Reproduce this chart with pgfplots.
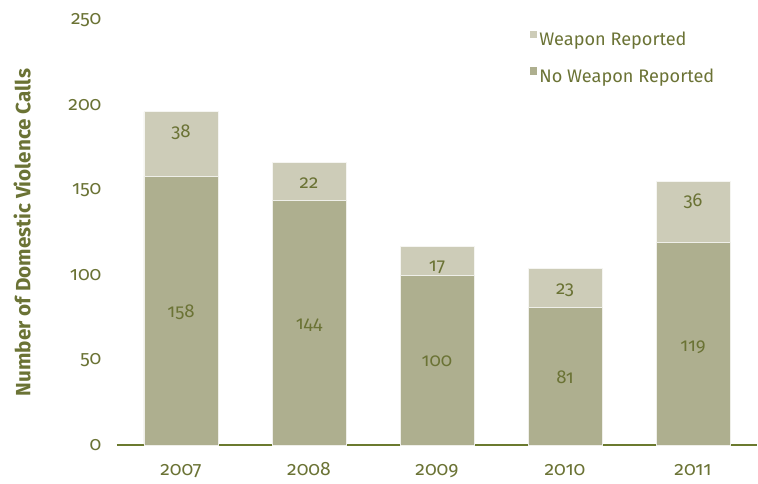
\documentclass[border=0pt]{standalone}
\usepackage{pgfplots}
\usepackage{pgfplotstable}
\pgfplotsset{compat=1.18}
\usepackage{fontspec}
\setmainfont[Numbers=OldStyle]{Fira Sans}
\definecolor{nowp}{HTML}{AEAF8F}
\definecolor{wp}{HTML}{CDCCB8}
\definecolor{txt}{HTML}{6B7335}
\definecolor{axc}{HTML}{6B7A2F}
\pgfplotstableread{
x nw w
0 158 38
1 144 22
2 100 17
3 81 23
4 119 36
}\datatab
\pgfplotstableread{
x y lab
0 78 158
1 70.5 144
2 49 100
3 40 81
4 57.6 119
0 184 38
1 154 22
2 104.7 17
3 91.2 23
4 143.5 36
}\labtab
\begin{document}
\fontsize{13pt}{15pt}\selectfont
\begin{tikzpicture}
\pgfplotsset{
  common/.style={
    scale only axis, width=480pt, height=318.75pt,
    xmin=-0.5, xmax=4.5, ymin=0, ymax=250,
  }
}
\begin{axis}[common, name=main,
  ybar stacked, bar width=55.5pt,
  axis x line=bottom, axis y line=left,
  x axis line style={draw=axc, line width=0.9pt, -},
  y axis line style={draw=none},
  tick style={draw=none},
  xtick={0,...,4}, xticklabels={2007,2008,2009,2010,2011},
  ytick={0,50,...,250},
  ticklabel style={font=\fontsize{14.5pt}{16pt}\selectfont, text=txt},
  yticklabel style={xshift=-5pt},
  xticklabel style={yshift=-6pt, text height=10pt, text depth=3pt},
  /pgf/number format/assume math mode=true,
  ylabel={Number of Domestic Violence Calls},
  every axis y label/.style={at={(axis description cs:-0.148,0.5)}, rotate=90, anchor=center,
     font=\fontsize{15.5pt}{17pt}\selectfont\bfseries, text=txt},
  legend style={at={(0.645,0.978)}, anchor=north west, draw=none, fill=none,
     font=\fontsize{13.6pt}{15pt}\selectfont, text=txt, row sep=11pt, inner sep=0pt,
     nodes={inner xsep=1.5pt}},
  legend cell align=left,
  legend image code/.code={\fill[#1, draw=none] (0pt,1.5pt) rectangle (5.5pt,7pt);},
  reverse legend,
]
\addplot[fill=nowp, draw=white!80!nowp, line width=0.6pt] table[x=x, y=nw] {\datatab};
\addlegendentry{No Weapon Reported}
\addplot[fill=wp, draw=white!80!wp, line width=0.6pt] table[x=x, y=w] {\datatab};
\addlegendentry{Weapon Reported}
\end{axis}
\begin{axis}[common, hide axis]
\addplot[draw=none, mark=none, nodes near coords, point meta=explicit symbolic,
  every node near coord/.append style={anchor=center, text=txt, font=\fontsize{14pt}{16pt}\selectfont}]
  table[x=x, y=y, meta=lab] {\labtab};
\end{axis}
\pgfresetboundingbox
\path ([xshift=-87.75pt, yshift=-28.5pt]main.south west) rectangle ([xshift=0.75pt, yshift=15pt]main.north east);
\end{tikzpicture}
\end{document}
